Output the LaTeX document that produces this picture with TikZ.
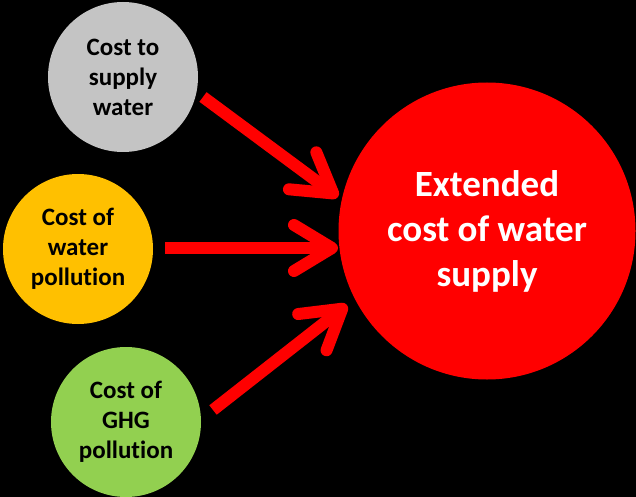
\documentclass[tikz,border=0pt]{standalone}
\usepackage{fontspec}
\setmainfont{Carlito}[Ligatures=NoCommon]
\usetikzlibrary{arrows.meta}
\definecolor{cgray}{HTML}{C4C4C4}
\definecolor{corange}{HTML}{FFC000}
\definecolor{cgreen}{HTML}{92D050}
\definecolor{cred}{HTML}{FF0000}
\tikzset{
  small/.style={circle, inner sep=0pt, minimum size=150pt, align=center,
    font=\fontsize{25}{30}\selectfont\bfseries, text=black},
  big/.style={circle, inner sep=0pt, minimum size=297pt, align=center, fill=cred,
    font=\fontsize{37}{45}\selectfont\bfseries, text=white},
  conn/.style={draw=cred, line width=12pt,
    -{Straight Barb[length=38pt, width=46pt, round]}},
}
\begin{document}
\begin{tikzpicture}[x=1pt,y=-1pt]
\fill[black] (0,0) rectangle (636,497);
\useasboundingbox (0,0) rectangle (636,497);
\node[small, fill=cgray] (g) at (123,77) {Cost to\\supply\\water};
\node[small, fill=corange] (o) at (78,249) {Cost of\\water\\pollution};
\node[small, fill=cgreen] (gr) at (126,422) {Cost of\\GHG\\pollution};
\node[big] (r) at (487,231) {Extended\\cost of water\\supply};
\coordinate (s1) at (203,97);
\coordinate (t1) at (338,197);
\coordinate (s2) at (165,248);
\coordinate (t2) at (338,248);
\coordinate (s3) at (213,410);
\coordinate (t3) at (347,305);
\draw[conn] (s1) -- (t1);
\draw[conn] (s2) -- (t2);
\draw[conn] (s3) -- (t3);
\end{tikzpicture}
\end{document}
